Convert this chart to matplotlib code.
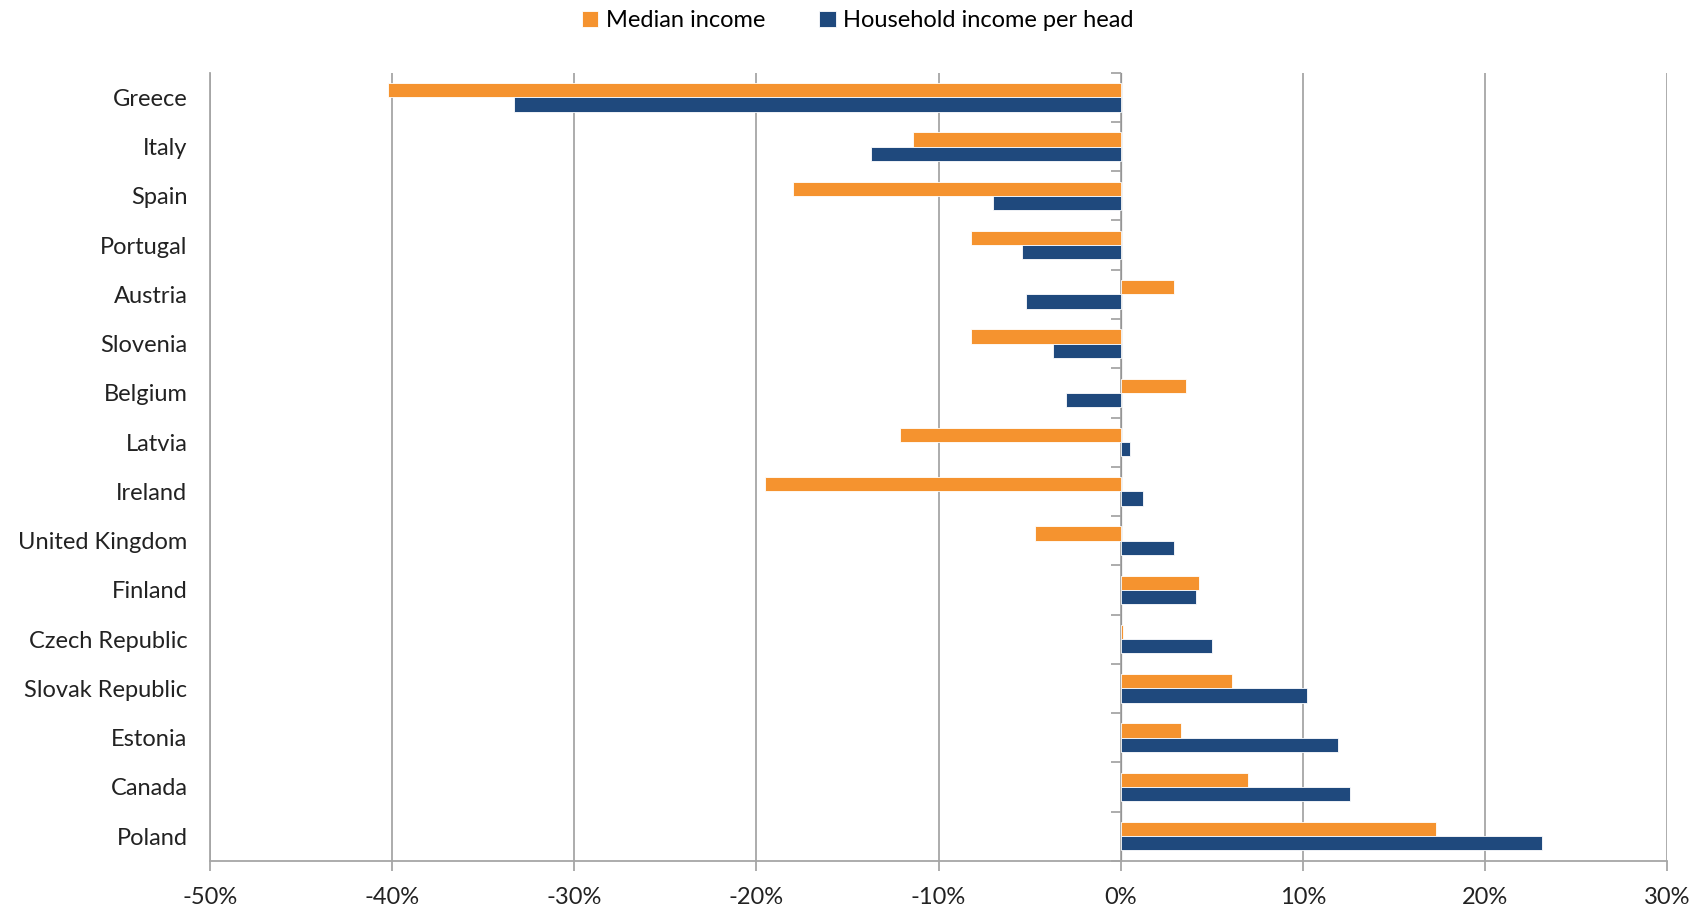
import numpy as np
import matplotlib.pyplot as plt

plt.rcParams['font.family'] = ['Lato', 'DejaVu Sans']

countries = ['Greece', 'Italy', 'Spain', 'Portugal', 'Austria', 'Slovenia',
             'Belgium', 'Latvia', 'Ireland', 'United Kingdom', 'Finland',
             'Czech Republic', 'Slovak Republic', 'Estonia', 'Canada', 'Poland']
median_income = [-40.2, -11.4, -18.0, -8.2, 2.9, -8.2, 3.6, -12.1, -19.5,
                 -4.7, 4.3, 0.1, 6.1, 3.3, 7.0, 17.3]
income_per_head = [-33.3, -13.7, -7.0, -5.4, -5.2, -3.7, -3.0, 0.5, 1.2,
                   2.9, 4.1, 5.0, 10.2, 11.9, 12.6, 23.1]
xticks = [-50, -40, -30, -20, -10, 0, 10, 20, 30]

orange = '#F5932F'
blue = '#1F497D'
grid = '#A6A6A6'

fig = plt.figure(figsize=(17.05, 9.09), dpi=100)
ax = fig.add_axes([0.123, 0.053, 0.855, 0.867])

y = np.arange(len(countries))
h = 0.29
ax.barh(y - h / 2, median_income, height=h, color=orange,
        edgecolor='white', linewidth=0.6, label='Median income', zorder=3)
ax.barh(y + h / 2, income_per_head, height=h, color=blue,
        edgecolor='white', linewidth=0.6, label='Household income per head', zorder=3)

ax.set_xlim(-50, 30)
ax.set_ylim(len(countries) - 0.5, -0.5)
ax.set_xticks(xticks)
ax.set_xticklabels([f'{v}%' for v in xticks])
ax.set_yticks(y)
ax.set_yticklabels(countries)

ax.xaxis.grid(True, color=grid, linewidth=1.3, zorder=0)
ax.tick_params(axis='y', length=0, pad=16, labelsize=17, labelcolor='#222222')
ax.tick_params(axis='x', length=7, width=1.3, color=grid, pad=12,
               labelsize=17, labelcolor='#222222')

for side in ['top', 'right']:
    ax.spines[side].set_visible(False)
ax.spines['left'].set_color(grid)
ax.spines['left'].set_linewidth(1.3)
ax.spines['bottom'].set_color(grid)
ax.spines['bottom'].set_linewidth(1.3)

# category axis sits at 0%
zero_pos = (0 - xticks[0]) / (xticks[-1] - xticks[0])
sec = ax.secondary_yaxis(zero_pos)
sec.set_yticks(np.arange(len(countries) + 1) - 0.5)
sec.set_yticklabels([])
sec.tick_params(length=7, width=1.3, color=grid, direction='in')
sec.spines['left'].set_color(grid)
sec.spines['left'].set_linewidth(1.3)

fig.legend(*ax.get_legend_handles_labels(), loc='upper center',
           bbox_to_anchor=(0.503, 1.012), ncol=2, frameon=False,
           fontsize=17, handlelength=0.7, handleheight=0.7, handletextpad=0.3,
           columnspacing=2.3)

fig.savefig('out.png', dpi=100)
